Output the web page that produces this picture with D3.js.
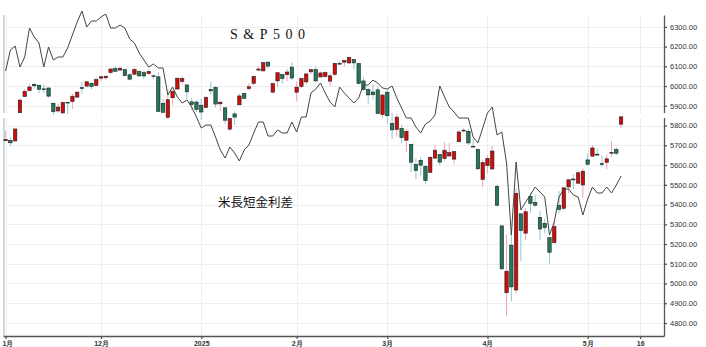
<!DOCTYPE html>
<meta charset="utf-8">
<html>
<head>
<title>S&P500</title>
<style>
body { margin: 0; background: #fff; }
svg { display: block; font-family: Arial, "Liberation Sans", sans-serif; }
.grid line { stroke: #eeeeee; stroke-width: 1; shape-rendering: crispEdges; }
.axis path, .axis line { stroke: #555; stroke-width: 1.3; }
.axis text { fill: #333; }
</style>
</head>
<body>
<svg width="706" height="347"></svg>
<script src="https://d3js.org/d3.v7.min.js"></script>
<script>

// trading days shown on the chart
var dates = [
  "2024-11-01","2024-11-04","2024-11-05","2024-11-06","2024-11-07","2024-11-08","2024-11-11","2024-11-12","2024-11-13","2024-11-14",
  "2024-11-15","2024-11-18","2024-11-19","2024-11-20","2024-11-21","2024-11-22","2024-11-25","2024-11-26","2024-11-27","2024-11-29",
  "2024-12-02","2024-12-03","2024-12-04","2024-12-05","2024-12-06","2024-12-09","2024-12-10","2024-12-11","2024-12-12","2024-12-13",
  "2024-12-16","2024-12-17","2024-12-18","2024-12-19","2024-12-20","2024-12-23","2024-12-24","2024-12-26","2024-12-27","2024-12-30",
  "2024-12-31","2025-01-02","2025-01-03","2025-01-06","2025-01-07","2025-01-08","2025-01-10","2025-01-13","2025-01-14","2025-01-15",
  "2025-01-16","2025-01-17","2025-01-21","2025-01-22","2025-01-23","2025-01-24","2025-01-27","2025-01-28","2025-01-29","2025-01-30",
  "2025-01-31","2025-02-03","2025-02-04","2025-02-05","2025-02-06","2025-02-07","2025-02-10","2025-02-11","2025-02-12","2025-02-13",
  "2025-02-14","2025-02-18","2025-02-19","2025-02-20","2025-02-21","2025-02-24","2025-02-25","2025-02-26","2025-02-27","2025-02-28",
  "2025-03-03","2025-03-04","2025-03-05","2025-03-06","2025-03-07","2025-03-10","2025-03-11","2025-03-12","2025-03-13","2025-03-14",
  "2025-03-17","2025-03-18","2025-03-19","2025-03-20","2025-03-21","2025-03-24","2025-03-25","2025-03-26","2025-03-27","2025-03-28",
  "2025-03-31","2025-04-01","2025-04-02","2025-04-03","2025-04-04","2025-04-07","2025-04-08","2025-04-09","2025-04-10","2025-04-11",
  "2025-04-14","2025-04-15","2025-04-16","2025-04-17","2025-04-21","2025-04-22","2025-04-23","2025-04-24","2025-04-25","2025-04-28",
  "2025-04-29","2025-04-30","2025-05-01","2025-05-02","2025-05-05","2025-05-06","2025-05-07","2025-05-08","2025-05-09","2025-05-12"
];
// empty days at the right end of the axis
var extraDays = ["2025-05-13","2025-05-14","2025-05-15","2025-05-16"];

var opens = [
  5723,5725,5722,5865,5947,5977,6009,6004,5986,5990, 5913,5874,5864,5918,5922,5944,5992,6000,6014,6003,
  6040,6042,6069,6089,6081,6083,6057,6060,6074,6068, 6063,6052,6047,5913,5842,5941,5985,6024,6006,5920,
  5919,5903,5891,5982,5993,5910,5890,5782,5859,5905, 5963,5987,6014,6081,6077,6121,5969,6026,6058,6058,
  6096,5969,5998,6021,6072,6083,6046,6049,6025,6060, 6115,6121,6117,6134,6114,6026,5982,5970,5981,5856,
  5969,5811,5781,5785,5726,5705,5603,5624,5594,5563, 5635,5654,5633,5646,5630,5718,5776,5771,5695,5679,
  5527,5597,5580,5492,5292,4953,5194,4967,5353,5255, 5441,5411,5335,5305,5232,5207,5396,5381,5489,5529,
  5508,5499,5626,5645,5655,5607,5614,5663,5679,5807
];
var highs = [
  5772,5741,5783,5936,5984,6012,6017,6008,6008,5994, 5915,5908,5920,5920,5963,5972,6020,6025,6020,6044,
  6053,6052,6089,6099,6099,6089,6066,6092,6079,6078, 6085,6057,6070,5935,5982,5978,6040,6049,6006,5940,
  5930,5935,5949,6021,6000,5927,5890,5838,5871,5961, 5965,6014,6051,6100,6119,6128,6017,6070,6062,6086,
  6120,6022,6042,6062,6084,6101,6073,6076,6063,6116, 6127,6129,6147,6134,6114,6043,5992,6009,5994,5959,
  5986,5865,5860,5803,5783,5705,5636,5642,5598,5645, 5703,5654,5715,5711,5670,5775,5786,5784,5733,5685,
  5627,5650,5696,5500,5292,5247,5268,5482,5353,5381, 5459,5450,5367,5328,5233,5309,5469,5489,5528,5554,
  5571,5581,5658,5700,5683,5649,5653,5721,5691,5845
];
var lows = [
  5723,5697,5722,5865,5947,5977,5987,5964,5966,5942, 5853,5866,5860,5860,5883,5944,5963,5992,5984,6003,
  6026,6033,6061,6070,6079,6049,6029,6060,6051,6035, 6059,6035,5867,5866,5832,5902,5983,6007,5932,5879,
  5868,5829,5888,5960,5891,5874,5809,5773,5803,5905, 5937,5978,6007,6076,6074,6088,5962,5995,6012,6025,
  6031,5924,5990,6007,6060,6020,6046,6042,6003,6051, 6108,6099,6111,6084,6008,5977,5908,5932,5858,5837,
  5810,5732,5744,5711,5666,5565,5528,5546,5504,5563, 5631,5597,5622,5641,5603,5718,5764,5703,5694,5573,
  5489,5558,5578,5390,5069,4835,4910,4950,5115,5220, 5358,5387,5220,5255,5101,5207,5356,5371,5456,5478,
  5505,5433,5597,5644,5648,5590,5579,5640,5651,5786
];
var closes = [
  5728.80,5712.69,5782.76,5929.04,5973.10,5995.54,6001.35,5983.99,5985.38,5949.17,
  5870.62,5893.62,5916.98,5917.11,5948.71,5969.34,5987.37,6021.63,5998.74,6032.38,
  6047.15,6049.88,6086.49,6075.11,6090.27,6052.85,6034.91,6084.19,6051.25,6051.09,
  6074.08,6050.61,5872.16,5867.08,5930.85,5974.07,6040.04,6037.59,5970.84,5906.94,
  5881.63,5868.55,5942.47,5975.38,5909.03,5918.25,5827.04,5836.22,5842.91,5949.91,
  5937.34,5996.66,6049.24,6086.37,6118.71,6101.24,6012.28,6067.70,6039.31,6071.17,
  6040.53,5994.57,6037.88,6061.48,6083.57,6025.99,6066.44,6068.50,6051.97,6115.07,
  6114.63,6129.58,6144.15,6117.52,6013.13,5983.25,5955.25,5956.06,5861.57,5954.50,
  5849.72,5778.15,5842.63,5738.52,5770.20,5614.56,5572.07,5599.30,5521.52,5638.94,
  5675.12,5614.66,5675.29,5662.89,5667.56,5767.57,5776.65,5712.20,5693.31,5580.94,
  5611.85,5633.07,5670.97,5396.52,5074.08,5062.25,4982.77,5456.90,5268.05,5363.36,
  5405.97,5396.63,5275.70,5282.70,5158.20,5287.76,5375.86,5484.77,5525.21,5528.75,
  5560.83,5569.06,5604.14,5686.67,5650.38,5606.91,5631.28,5663.94,5659.91,5844.19
];

// 米長短金利差 (bp, own hidden scale)
var spread = [
  35.8,40.0,40.8,36.6,38.6,44.4,42.6,41.4,36.6,40.6, 38.0,38.6,38.6,40.4,43.0,45.6,47.8,44.6,45.8,45.8,
  46.6,47.2,44.4,44.4,45.0,44.4,42.2,41.4,39.4,38.0, 36.6,37.2,36.4,36.4,31.0,32.6,30.6,29.4,30.0,28.6,
  26.6,24.4,25.0,25.0,22.6,20.0,18.4,20.6,19.4,17.8, 20.0,21.0,23.4,25.6,25.6,22.8,22.8,24.0,23.4,23.4,
  25.6,23.6,26.6,26.6,31.4,32.2,33.4,31.4,29.6,28.6, 32.6,31.4,30.4,29.4,30.4,33.0,33.0,34.0,33.4,32.4,
  32.2,32.8,30.4,28.4,26.4,26.4,24.6,23.4,25.2,25.8, 27.0,32.8,30.6,28.6,27.6,26.4,26.4,26.4,22.6,21.4,
  24.4,27.4,28.6,23.0,23.6,17.4,3.0,17.6,8.0,9.6, 11.0,12.6,11.6,10.6,3.0,5.6,10.6,12.2,12.2,11.0,
  10.6,7.0,10.2,12.6,11.4,11.4,12.6,11.4,13.0,14.8
];

var yTicks = [4800,4900,5000,5100,5200,5300,5400,5500,5600,5700,5800,5900,6000,6100,6200,6300];
var tickDays = ["2024-11-01","2024-12-02","2025-01-02","2025-02-03","2025-03-03","2025-04-01","2025-05-01","2025-05-16"];
var tickLabels = ["11月","12月","2025","2月","3月","4月","5月","16"];

var svg = d3.select("svg"),
    plotL = 3, plotR = 664, plotT = 15, plotB = 336;

var calendar = dates.concat(extraDays);
var tickIdx = tickDays.map(function(d) { return calendar.indexOf(d); });

var x = d3.scaleLinear().domain([-0.55, 138]).range([plotL, plotR]);
var y = d3.scaleLinear().domain([4734, 6360]).range([plotB, plotT]);
var ys = d3.scaleLinear().domain([0, 50]).range([250, 0]);

// grid
var grid = svg.append("g").attr("class", "grid");
grid.selectAll(".h").data(yTicks).enter().append("line")
    .attr("x1", plotL).attr("x2", plotR)
    .attr("y1", function(d) { return Math.round(y(d)) + 0.5; })
    .attr("y2", function(d) { return Math.round(y(d)) + 0.5; });
grid.selectAll(".v").data(tickIdx).enter().append("line")
    .attr("y1", plotT).attr("y2", plotB)
    .attr("x1", function(d) { return Math.round(x(d)) + 0.5; })
    .attr("x2", function(d) { return Math.round(x(d)) + 0.5; });

// light border on the left
svg.append("line")
    .attr("x1", plotL + 1).attr("x2", plotL + 1)
    .attr("y1", plotT).attr("y2", plotB)
    .attr("stroke", "#cdd7e2").attr("stroke-width", 2);

// right axis
var yAxis = svg.append("g")
    .attr("class", "axis")
    .attr("transform", "translate(" + plotR + ",0)")
    .call(d3.axisRight(y).tickValues(yTicks).tickFormat(d3.format(".2f")).tickSize(3).tickSizeOuter(0).tickPadding(3));
yAxis.selectAll("text").attr("font-size", 7.5);

// bottom axis, clipped at the left edge
svg.append("clipPath").attr("id", "xclip")
  .append("rect").attr("x", plotL).attr("y", -10).attr("width", 706).attr("height", 40);

var xAxis = svg.append("g")
    .attr("transform", "translate(0," + plotB + ")")
  .append("g")
    .attr("class", "axis")
    .attr("clip-path", "url(#xclip)")
    .call(d3.axisBottom(x).tickValues(tickIdx).tickFormat(function(d, i) { return tickLabels[i]; }).tickSize(3).tickSizeOuter(0).tickPadding(2));
xAxis.selectAll("text").attr("font-size", 7).attr("font-weight", "bold");

// thin white seam across the chart
svg.append("rect")
    .attr("x", 0).attr("width", 706)
    .attr("y", 113).attr("height", 5)
    .attr("fill", "#fff");

// candles
var data = dates.map(function(d, i) {
  return {i: i, o: opens[i], h: highs[i], l: lows[i], c: closes[i]};
});

var candle = svg.append("g").selectAll("g").data(data).enter().append("g");

candle.append("line")
    .attr("x1", function(d) { return x(d.i); })
    .attr("x2", function(d) { return x(d.i); })
    .attr("y1", function(d) { return y(d.h); })
    .attr("y2", function(d) { return y(d.l); })
    .attr("stroke", function(d) { return d.c >= d.o ? "#f2a3b3" : "#8ec7da"; })
    .attr("stroke-width", 1);

candle.append("rect")
    .attr("x", function(d) { return x(d.i) - 1.7; })
    .attr("width", 3.4)
    .attr("y", function(d) { return y(Math.max(d.o, d.c)); })
    .attr("height", function(d) { return Math.max(0.8, Math.abs(y(d.o) - y(d.c))); })
    .attr("fill", function(d) { return d.c >= d.o ? "#d10a0a" : "#21795a"; })
    .attr("stroke", "#222")
    .attr("stroke-width", 0.6);

// spread line
svg.append("path")
    .datum(spread)
    .attr("fill", "none")
    .attr("stroke", "#444")
    .attr("stroke-width", 1)
    .attr("d", d3.line().x(function(d, i) { return x(i); }).y(function(d) { return ys(d); }));

// labels
svg.append("text")
    .attr("x", 230).attr("y", 39)
    .attr("font-family", "'Liberation Serif', 'DejaVu Serif', serif")
    .attr("font-size", 14)
    .attr("letter-spacing", 5.5)
    .attr("fill", "#111")
    .text("S&P500");

svg.append("text")
    .attr("x", 218).attr("y", 207)
    .attr("font-family", "'Noto Sans CJK JP', sans-serif")
    .attr("font-size", 12.5)
    .attr("fill", "#111")
    .text("米長短金利差");

</script>
</body>
</html>
